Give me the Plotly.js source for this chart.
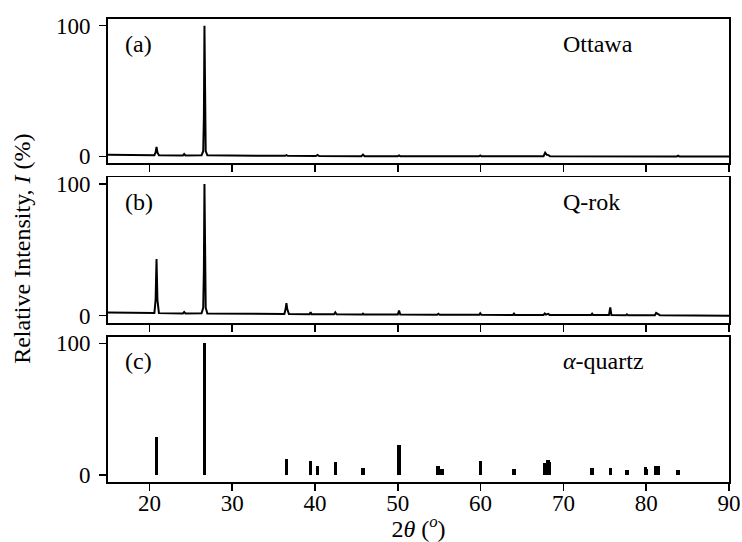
<!DOCTYPE html>
<html>
<head>
<meta charset="utf-8">
<script src="https://cdn.plot.ly/plotly-3.0.1.min.js"></script>
<style>html,body{margin:0;padding:0;background:#fff;}#chart{width:742px;height:542px;}</style>
</head>
<body>
<div id="chart"></div>
<script>
// Panel (a): Ottawa sand XRD pattern (2theta in degrees, relative intensity %)
const ottawaX = [15, 17, 19, 20.6, 20.75, 20.86, 20.97, 21.15, 24.05, 24.2, 24.35, 26.3, 26.5, 26.58, 26.65, 26.72, 26.8, 27.0, 30, 36.4, 36.55, 36.7, 40.1, 40.3, 40.5, 45.6, 45.8, 46.0, 50.0, 50.15, 50.3, 54.7, 54.85, 55.0, 59.8, 59.96, 60.1, 67.6, 67.8, 68.0, 68.2, 68.4, 73.3, 73.45, 73.6, 83.7, 83.85, 84.0, 90];
const ottawaY = [1.2, 1.0, 0.9, 0.9, 3.0, 7.2, 3.0, 0.9, 0.7, 1.8, 0.7, 0.9, 4.0, 30, 100, 30, 4.0, 0.8, 0.5, 0.4, 0.9, 0.4, 0.3, 1.1, 0.3, 0.2, 1.3, 0.2, 0.2, 0.7, 0.2, 0.1, 0.6, 0.1, 0.1, 0.7, 0.1, 0.1, 2.8, 1.2, 1.0, 0.1, 0.0, 0.5, 0.0, 0.0, 0.5, 0.0, 0.0];

// Panel (b): Q-rok XRD pattern
const qrokX = [15, 17, 19, 20.6, 20.75, 20.86, 20.97, 21.15, 24.05, 24.2, 24.35, 26.3, 26.5, 26.58, 26.65, 26.72, 26.8, 27.0, 30, 36.3, 36.45, 36.55, 36.65, 36.85, 39.35, 39.47, 39.6, 40.2, 40.3, 40.4, 42.3, 42.45, 42.6, 45.7, 45.8, 45.9, 50.0, 50.15, 50.3, 54.75, 54.9, 55.05, 59.85, 59.96, 60.1, 63.9, 64.03, 64.15, 67.6, 67.75, 67.9, 68.15, 68.35, 73.35, 73.47, 73.6, 75.5, 75.66, 75.8, 77.55, 77.67, 77.8, 81.05, 81.2, 81.45, 81.65, 90];
const qrokY = [2.4, 2.2, 2.0, 2.0, 12, 43, 12, 1.9, 1.7, 2.8, 1.7, 1.8, 6, 35, 100, 35, 6, 1.6, 1.4, 1.2, 5, 9.5, 5, 1.2, 1.1, 2.6, 1.1, 1.0, 1.5, 1.0, 1.0, 2.5, 1.0, 0.9, 1.5, 0.9, 0.8, 3.8, 0.8, 0.7, 1.4, 0.7, 0.6, 1.8, 0.6, 0.5, 1.5, 0.5, 0.5, 1.6, 0.7, 1.3, 0.5, 0.4, 1.5, 0.4, 0.4, 6.2, 0.4, 0.3, 1.0, 0.3, 0.3, 2.0, 1.2, 0.3, 0.0];

// Panel (c): alpha-quartz reference stick pattern
const quartzPos = [20.86, 26.64, 36.54, 39.47, 40.29, 42.45, 45.79, 50.14, 54.87, 55.33, 59.96, 64.03, 67.74, 68.14, 68.32, 73.47, 75.66, 77.67, 79.88, 80.06, 81.17, 81.49, 83.84];
const quartzInt = [29, 100, 12, 10.5, 6.5, 9.5, 5, 22.5, 7, 4.5, 10.5, 4.5, 9, 11.5, 9.5, 5, 5, 4, 6, 4.5, 6.5, 6.5, 4];

const panelLetters = ["(a)", "(b)", "(c)"];
const panelNames = ["Ottawa", "Q-rok", "<i>α</i>-quartz"];
const xTicks = [20, 30, 40, 50, 60, 70, 80, 90];
const yTicks = [0, 100];

const FONT = "Liberation Serif, Times New Roman, serif";
const FS = 23;
const FS_TXT = 24;

const traces = [
  {x: ottawaX, y: ottawaY, type: 'scatter', mode: 'lines', line: {color: '#000', width: 2}, xaxis: 'x', yaxis: 'y', hoverinfo: 'skip'},
  {x: qrokX, y: qrokY, type: 'scatter', mode: 'lines', line: {color: '#000', width: 2}, xaxis: 'x2', yaxis: 'y2', hoverinfo: 'skip'},
  {x: quartzPos, y: quartzInt, type: 'bar', width: 0.4, base: 0, marker: {color: '#000', line: {width: 0}}, xaxis: 'x3', yaxis: 'y3', hoverinfo: 'skip'}
];

function xa(anchor, showLabels) {
  return {
    anchor: anchor, domain: [0, 1], range: [15, 90], tickmode: 'array', tickvals: xTicks,
    showticklabels: showLabels, ticks: 'outside', ticklen: 7, tickwidth: 1.5, tickcolor: '#000',
    showline: true, linecolor: '#000', linewidth: 1.8, mirror: true,
    showgrid: false, zeroline: false, tickfont: {family: FONT, size: FS, color: '#000'}
  };
}
function ya(anchor, dom) {
  return {
    anchor: anchor, domain: dom, range: [-5.4, 105.1], tickmode: 'array', tickvals: yTicks,
    ticks: 'outside', ticklen: 7, tickwidth: 1.5, tickcolor: '#000', ticklabelstandoff: 4,
    showline: true, linecolor: '#000', linewidth: 1.8, mirror: true,
    showgrid: false, zeroline: false, tickfont: {family: FONT, size: FS, color: '#000'}
  };
}

const doms = [[0.688, 1], [0.344, 0.658], [0, 0.314]];
const annotations = [];
const xrefs = ['x', 'x2', 'x3'];
const yrefs = ['y', 'y2', 'y3'];
for (let i = 0; i < 3; i++) {
  annotations.push({text: panelLetters[i], xref: xrefs[i] + ' domain', yref: yrefs[i] + ' domain', x: 0.024, y: 0.83, xanchor: 'left', yanchor: 'middle', showarrow: false, font: {family: FONT, size: FS_TXT, color: '#000'}});
  annotations.push({text: panelNames[i], xref: xrefs[i] + ' domain', yref: yrefs[i] + ' domain', x: 0.73, y: 0.83, xanchor: 'left', yanchor: 'middle', showarrow: false, font: {family: FONT, size: FS_TXT, color: '#000'}});
}
annotations.push({text: 'Relative Intensity, <i>I</i> (%)', xref: 'paper', yref: 'paper', x: -0.139, y: 0.503, textangle: -90, xanchor: 'center', yanchor: 'middle', showarrow: false, font: {family: FONT, size: FS_TXT, color: '#000'}});

const x3 = xa('y3', true);
x3.ticklabelstandoff = -7;
x3.title = {text: '2<i>θ</i> (<sup><i>o</i></sup>)', font: {family: FONT, size: FS_TXT, color: '#000'}, standoff: 0};

const layout = {
  width: 742, height: 542,
  margin: {l: 108, r: 13, t: 19, b: 60},
  paper_bgcolor: '#fff', plot_bgcolor: '#fff',
  showlegend: false, bargap: 0,
  xaxis: xa('y', false), xaxis2: xa('y2', false), xaxis3: x3,
  yaxis: ya('x', doms[0]), yaxis2: ya('x2', doms[1]), yaxis3: ya('x3', doms[2]),
  annotations: annotations
};

Plotly.newPlot('chart', traces, layout, {displayModeBar: false, staticPlot: true});
</script>
</body>
</html>
